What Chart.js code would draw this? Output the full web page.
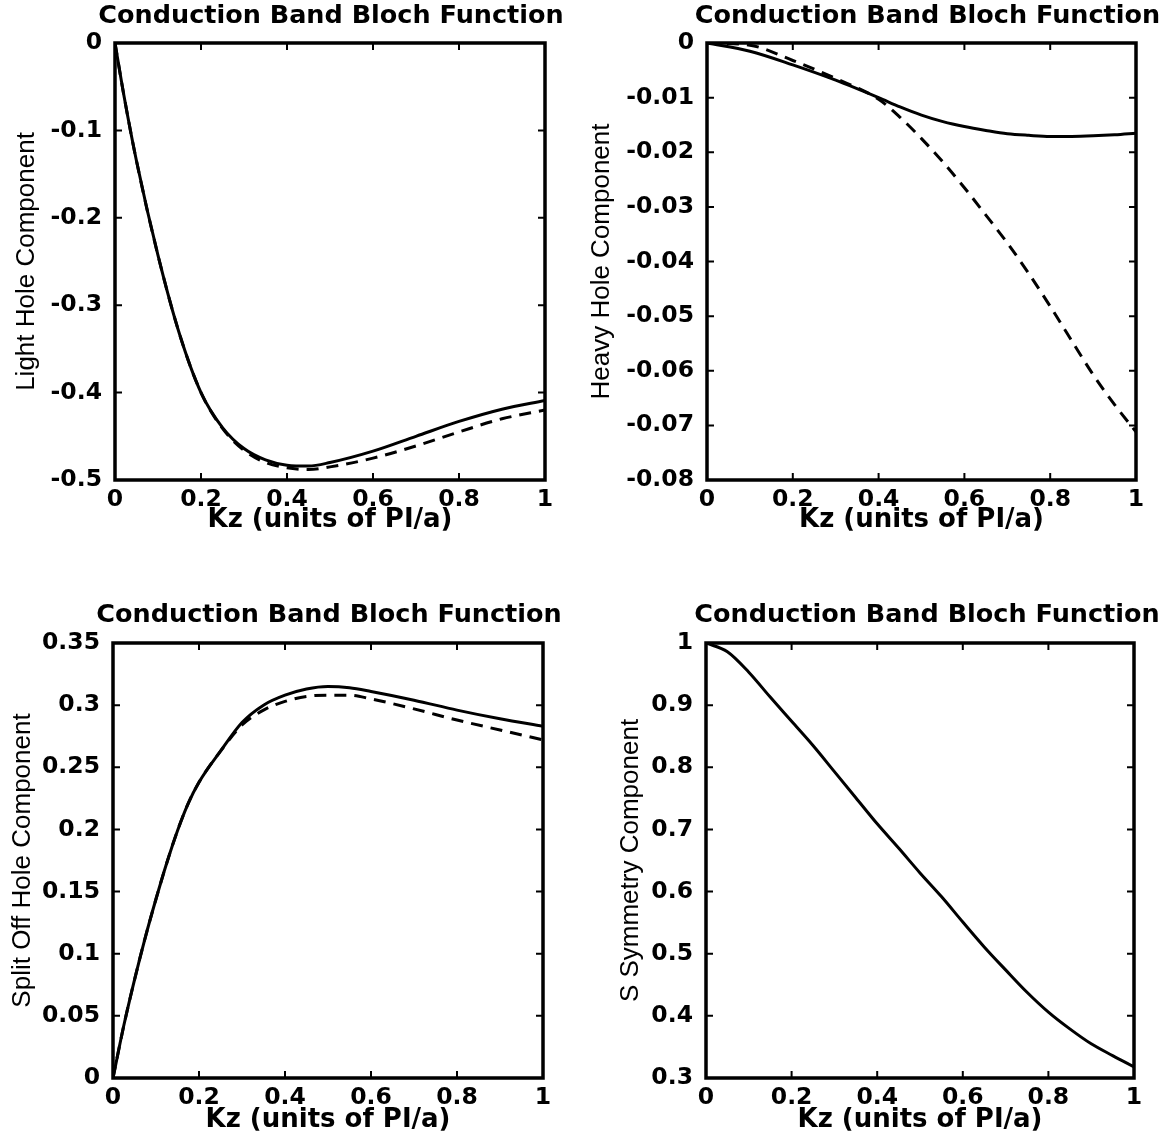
<!DOCTYPE html>
<html>
<head>
<meta charset="utf-8">
<script src="https://cdn.jsdelivr.net/npm/chart.js@4.4.0/dist/chart.umd.min.js"></script>
<style>
  html, body { margin: 0; background: #fff; overflow: hidden; }
  canvas { position: absolute; }
</style>
</head>
<body>
<canvas id="lhChart" width="586" height="545" style="left:0px;top:0px"></canvas>
<canvas id="hhChart" width="586" height="545" style="left:586px;top:0px"></canvas>
<canvas id="soChart" width="586" height="542" style="left:0px;top:599px"></canvas>
<canvas id="sChart" width="586" height="542" style="left:586px;top:599px"></canvas>
<script>
// Shared text
const chartTitle = "Conduction Band Bloch Function";
const xTitle = "Kz (units of PI/a)";
const xTicks = [0, 0.2, 0.4, 0.6, 0.8, 1];
const xTickLabels = ["0", "0.2", "0.4", "0.6", "0.8", "1"];

// Light hole component
const kzLH = [0, 0.02, 0.05, 0.1, 0.15, 0.2, 0.25, 0.3, 0.35, 0.4, 0.45, 0.5, 0.6, 0.7, 0.8, 0.9, 1.0];
const lhSolid = [0, -0.058, -0.135, -0.243, -0.333, -0.4, -0.44, -0.464, -0.477, -0.483, -0.484, -0.48, -0.467, -0.45, -0.433, -0.419, -0.409];
const lhDashed = [0, -0.058, -0.135, -0.243, -0.333, -0.4, -0.441, -0.466, -0.48, -0.486, -0.488, -0.485, -0.475, -0.461, -0.445, -0.43, -0.42];
const lhTicks = [-0.5, -0.4, -0.3, -0.2, -0.1, 0];
const lhTickLabels = ["-0.5", "-0.4", "-0.3", "-0.2", "-0.1", "0"];

// Heavy hole component
const kzHH = [0, 0.1, 0.2, 0.3, 0.4, 0.45, 0.5, 0.55, 0.6, 0.65, 0.7, 0.75, 0.8, 0.85, 0.9, 0.95, 1.0];
const hhSolid = [0, -0.0015, -0.004, -0.0068, -0.01, -0.0117, -0.0132, -0.0144, -0.0153, -0.016, -0.0166, -0.0169, -0.0171, -0.0171, -0.017, -0.0168, -0.0165];
const hhDashed = [0, -0.0004, -0.0032, -0.0065, -0.0103, -0.0136, -0.0175, -0.0218, -0.0265, -0.0315, -0.0366, -0.0422, -0.0482, -0.0545, -0.0607, -0.0662, -0.0712];
const hhTicks = [-0.08, -0.07, -0.06, -0.05, -0.04, -0.03, -0.02, -0.01, 0];
const hhTickLabels = ["-0.08", "-0.07", "-0.06", "-0.05", "-0.04", "-0.03", "-0.02", "-0.01", "0"];

// Split off hole component
const kzSO = [0, 0.025, 0.05, 0.075, 0.1, 0.125, 0.15, 0.175, 0.2, 0.25, 0.3, 0.35, 0.4, 0.45, 0.5, 0.55, 0.6, 0.7, 0.8, 0.9, 1.0];
const soSolid = [0, 0.042, 0.079, 0.113, 0.144, 0.173, 0.199, 0.221, 0.238, 0.263, 0.286, 0.3, 0.308, 0.313, 0.315, 0.314, 0.311, 0.304, 0.296, 0.289, 0.283];
const soDashed = [0, 0.042, 0.079, 0.113, 0.144, 0.173, 0.199, 0.221, 0.238, 0.263, 0.284, 0.296, 0.303, 0.307, 0.308, 0.308, 0.305, 0.297, 0.288, 0.28, 0.272];
const soTicks = [0, 0.05, 0.1, 0.15, 0.2, 0.25, 0.3, 0.35];
const soTickLabels = ["0", "0.05", "0.1", "0.15", "0.2", "0.25", "0.3", "0.35"];

// S symmetry component
const kzS = [0, 0.05, 0.1, 0.15, 0.2, 0.25, 0.3, 0.35, 0.4, 0.45, 0.5, 0.55, 0.6, 0.65, 0.7, 0.75, 0.8, 0.85, 0.9, 0.95, 1.0];
const sSolid = [1.0, 0.986, 0.953, 0.913, 0.874, 0.835, 0.793, 0.751, 0.709, 0.67, 0.63, 0.592, 0.551, 0.511, 0.474, 0.438, 0.406, 0.379, 0.355, 0.336, 0.318];
const sTicks = [0.3, 0.4, 0.5, 0.6, 0.7, 0.8, 0.9, 1];
const sTickLabels = ["0.3", "0.4", "0.5", "0.6", "0.7", "0.8", "0.9", "1"];

const boldFont = "'DejaVu Sans', sans-serif";
const labelFont = "'Liberation Sans', Arial, sans-serif";

Chart.defaults.color = "#000";

// MATLAB style box with inward ticks on all four sides
const frameTicks = {
  id: "frameTicks",
  afterDraw(chart) {
    const { ctx, chartArea: a, scales: { x, y } } = chart;
    const len = 7;
    ctx.save();
    ctx.strokeStyle = "#000";
    ctx.lineWidth = 2;
    ctx.beginPath();
    x.ticks.forEach((t) => {
      const px = x.getPixelForValue(t.value);
      ctx.moveTo(px, a.bottom);
      ctx.lineTo(px, a.bottom - len);
      ctx.moveTo(px, a.top);
      ctx.lineTo(px, a.top + len);
    });
    y.ticks.forEach((t) => {
      const py = y.getPixelForValue(t.value);
      ctx.moveTo(a.left, py);
      ctx.lineTo(a.left + len, py);
      ctx.moveTo(a.right, py);
      ctx.lineTo(a.right - len, py);
    });
    ctx.stroke();
    ctx.lineWidth = 3.5;
    ctx.strokeRect(a.left, a.top, a.right - a.left, a.bottom - a.top);
    ctx.restore();
  },
};

// title is a bit wider than the plot box, so widen its block (no squeeze)
const wideTitle = {
  id: "wideTitle",
  afterLayout(chart, args, opts) {
    const t = chart.titleBlock;
    if (!t) return;
    const c = (chart.chartArea.left + chart.chartArea.right) / 2 + (opts.shift || 0);
    t.left = c - 270;
    t.right = c + 270;
    t.width = 540;
  },
};

function pts(xs, ys) {
  return xs.map((v, i) => ({ x: v, y: ys[i] }));
}

function lineSet(data, dashed) {
  return {
    data: data,
    borderColor: "#000",
    borderWidth: 3,
    borderDash: dashed ? [12, 8] : [],
    pointRadius: 0,
    cubicInterpolationMode: "monotone",
    fill: false,
  };
}

function makeChart(id, yLabel, yTicks, yTickLabels, datasets, box) {
  const ctx = document.getElementById(id).getContext("2d");
  return new Chart(ctx, {
    type: "line",
    data: { datasets: datasets },
    options: {
      responsive: false,
      animation: false,
      layout: { padding: { top: 0, left: 0, right: box.padRight, bottom: 0 } },
      plugins: {
        legend: { display: false },
        tooltip: { enabled: false },
        wideTitle: { shift: box.titleShift },
        title: {
          display: true,
          text: chartTitle,
          fullSize: false,
          color: "#000",
          font: { family: boldFont, size: 25.5, weight: "bold", lineHeight: 1.2 },
          padding: { top: 1, bottom: box.titlePad },
        },
      },
      scales: {
        x: {
          type: "linear",
          min: 0,
          max: 1,
          grid: { display: false, drawTicks: false },
          border: { display: false },
          afterBuildTicks: (s) => { s.ticks = xTicks.map((v) => ({ value: v })); },
          afterFit: (s) => { s.height = box.xH; },
          ticks: {
            autoSkip: false,
            maxRotation: 0,
            padding: 6,
            color: "#000",
            font: { family: boldFont, size: 23.5, weight: "bold" },
            callback: (v) => xTickLabels[xTicks.indexOf(v)],
          },
          title: {
            display: true,
            text: xTitle,
            color: "#000",
            font: { family: boldFont, size: 26, weight: "bold", lineHeight: 1.2 },
            padding: { top: 0, bottom: box.xTitlePad },
          },
        },
        y: {
          type: "linear",
          min: yTicks[0],
          max: yTicks[yTicks.length - 1],
          grid: { display: false, drawTicks: false },
          border: { display: false },
          afterBuildTicks: (s) => { s.ticks = yTicks.map((v) => ({ value: v })); },
          afterFit: (s) => { s.width = box.yW; },
          ticks: {
            autoSkip: false,
            padding: 13,
            color: "#000",
            font: { family: boldFont, size: 23.5, weight: "bold" },
            callback: (v) => yTickLabels[yTicks.indexOf(v)],
          },
          title: {
            display: true,
            text: yLabel,
            color: "#000",
            font: { family: labelFont, size: 26, weight: "normal", lineHeight: 1.2 },
            padding: { top: box.yTitlePad, bottom: 0 },
          },
        },
      },
    },
    plugins: [frameTicks, wideTitle],
  });
}

const lhChart = makeChart("lhChart", "Light Hole Component", lhTicks, lhTickLabels,
  [lineSet(pts(kzLH, lhSolid), false), lineSet(pts(kzLH, lhDashed), true)],
  { padRight: 41, titlePad: 11.4, yW: 115, xH: 65, yTitlePad: 11, xTitlePad: 9, titleShift: 1 });

const hhChart = makeChart("hhChart", "Heavy Hole Component", hhTicks, hhTickLabels,
  [lineSet(pts(kzHH, hhSolid), false), lineSet(pts(kzHH, hhDashed), true)],
  { padRight: 36, titlePad: 11.4, yW: 121, xH: 65, yTitlePad: 0, xTitlePad: 9, titleShift: 6 });

const soChart = makeChart("soChart", "Split Off Hole Component", soTicks, soTickLabels,
  [lineSet(pts(kzSO, soSolid), false), lineSet(pts(kzSO, soDashed), true)],
  { padRight: 43, titlePad: 12.4, yW: 113, xH: 63, yTitlePad: 7, xTitlePad: 5, titleShift: 1 });

const sChart = makeChart("sChart", "S Symmetry Component", sTicks, sTickLabels,
  [lineSet(pts(kzS, sSolid), false)],
  { padRight: 38, titlePad: 12.4, yW: 120, xH: 63, yTitlePad: 29, xTitlePad: 5, titleShift: 7 });
</script>
</body>
</html>
